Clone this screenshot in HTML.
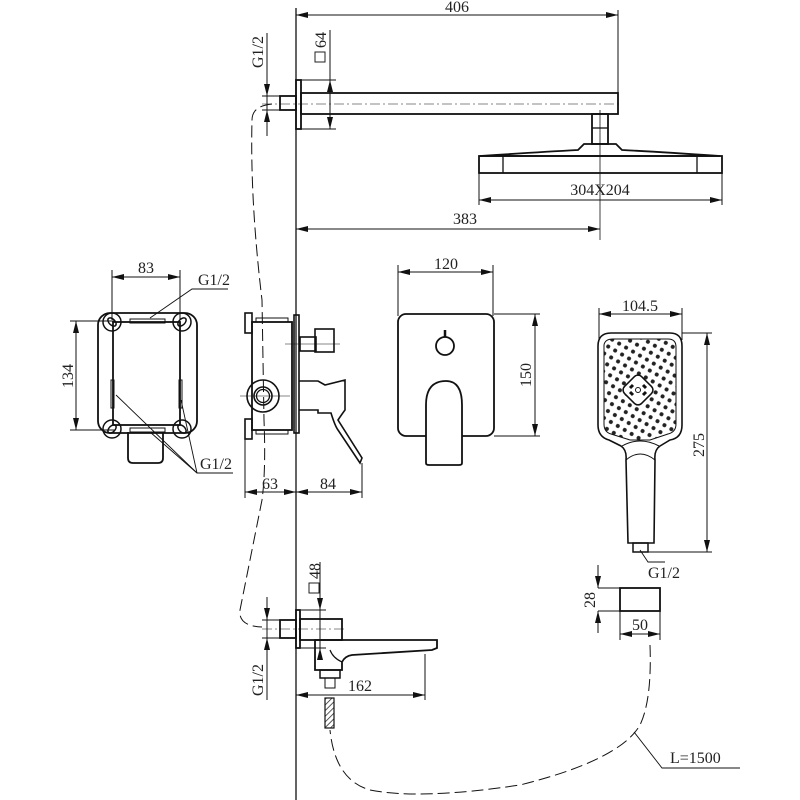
<!DOCTYPE html>
<html><head><meta charset="utf-8"><style>
html,body{margin:0;padding:0;background:#fff;}
svg{display:block;}
text{font-family:"Liberation Serif",serif;font-size:16px;fill:#222;}
</style></head><body>
<svg width="800" height="800" viewBox="0 0 800 800" xmlns="http://www.w3.org/2000/svg">
<defs>
<marker id="a" markerWidth="12" markerHeight="6" refX="12" refY="3" orient="auto-start-reverse" markerUnits="userSpaceOnUse"><path d="M0,0 L12,3 L0,6 z" fill="#111"/></marker>
<pattern id="dots" width="8" height="8" patternUnits="userSpaceOnUse" patternTransform="rotate(30)"><circle cx="4" cy="4" r="2" fill="#222"/></pattern>
<pattern id="hatch" width="4" height="4" patternUnits="userSpaceOnUse" patternTransform="rotate(45)"><line x1="0" y1="0" x2="0" y2="4" stroke="#222" stroke-width="1.5"/></pattern>
</defs>
<g fill="none" stroke="#111" stroke-width="1.3">
<line x1="296" y1="8" x2="296" y2="800"/>

<!-- TOP: shower arm -->
<line x1="296" y1="15" x2="618" y2="15" stroke-width="1" marker-start="url(#a)" marker-end="url(#a)"/>
<line x1="618" y1="10" x2="618" y2="95" stroke-width="1"/>
<rect x="296" y="80" width="5" height="49" stroke-width="1.8"/>
<rect x="280" y="96" width="16" height="14" stroke-width="1.8"/>
<rect x="301" y="93" width="317" height="21" stroke-width="1.8"/>
<line x1="262" y1="104" x2="622" y2="104" stroke-width="0.6" stroke-dasharray="10,3,2,3"/>
<line x1="301" y1="80" x2="336" y2="80" stroke-width="1"/>
<line x1="301" y1="129" x2="336" y2="129" stroke-width="1"/>
<line x1="330" y1="30" x2="330" y2="129" stroke-width="1"/>
<path d="M327,92 L330,80 L333,92 z M327,117 L330,129 L333,117z" fill="#111" stroke="none"/>
<line x1="267" y1="33" x2="267" y2="136" stroke-width="1"/>
<line x1="262" y1="96" x2="280" y2="96" stroke-width="1"/>
<line x1="262" y1="110" x2="280" y2="110" stroke-width="1"/>
<path d="M264,84 L267,96 L270,84 z M264,122 L267,110 L270,122z" fill="#111" stroke="none"/>
<!-- shower head -->
<rect x="592" y="114" width="16" height="30" stroke-width="1.8"/>
<line x1="592" y1="128" x2="608" y2="128"/>
<path d="M584,144 L616,144 L622,150 Q660,152 720,156 L480,156 Q540,152 578,150 z" stroke-width="1.8"/>
<rect x="479" y="156" width="243" height="17" stroke-width="1.8"/>
<line x1="503" y1="156" x2="503" y2="173"/>
<line x1="697" y1="156" x2="697" y2="173"/>
<line x1="600" y1="110" x2="600" y2="240" stroke-width="0.8"/>
<line x1="479" y1="173" x2="479" y2="205" stroke-width="1"/>
<line x1="722" y1="173" x2="722" y2="205" stroke-width="1"/>
<line x1="479" y1="200" x2="722" y2="200" stroke-width="1" marker-start="url(#a)" marker-end="url(#a)"/>
<line x1="296" y1="229" x2="600" y2="229" stroke-width="1" marker-start="url(#a)" marker-end="url(#a)"/>

<!-- dashed hose upper -->
<path d="M272,104 Q252,106 252,120 Q250,200 262,300 L264,420 Q266,470 262,500 Q250,560 240,610 Q238,626 262,627" stroke-width="1" stroke-dasharray="12,5"/>

<!-- LEFT BOX -->
<line x1="112" y1="277" x2="180" y2="277" stroke-width="1" marker-start="url(#a)" marker-end="url(#a)"/>
<line x1="112" y1="270" x2="112" y2="320" stroke-width="1"/>
<line x1="180" y1="270" x2="180" y2="320" stroke-width="1"/>
<rect x="98" y="313" width="99" height="120" rx="12" stroke-width="1.8"/>
<rect x="113" y="322" width="67" height="103" stroke-width="1.8"/>
<g stroke-width="1.5">
<circle cx="112" cy="322" r="9"/><ellipse cx="112" cy="322" rx="3" ry="5" transform="rotate(-45 112 322)"/>
<circle cx="182" cy="322" r="9"/><ellipse cx="182" cy="322" rx="3" ry="5" transform="rotate(45 182 322)"/>
<circle cx="112" cy="429" r="9"/><ellipse cx="112" cy="429" rx="3" ry="5" transform="rotate(45 112 429)"/>
<circle cx="182" cy="429" r="9"/><ellipse cx="182" cy="429" rx="3" ry="5" transform="rotate(-45 182 429)"/>
</g>
<rect x="130" y="319" width="35" height="4" stroke-width="1"/>
<rect x="130" y="428" width="35" height="4" stroke-width="1"/>
<rect x="111" y="380" width="3" height="28" stroke-width="1"/>
<rect x="179" y="380" width="3" height="28" stroke-width="1"/>
<path d="M128,432 L128,458 Q128,463 133,463 L158,463 Q163,463 163,458 L163,432" stroke-width="1.8"/>
<line x1="70" y1="321" x2="115" y2="321" stroke-width="1"/>
<line x1="70" y1="430" x2="115" y2="430" stroke-width="1"/>
<line x1="76" y1="321" x2="76" y2="430" stroke-width="1" marker-start="url(#a)" marker-end="url(#a)"/>
<polyline points="228,289 192,289 150,318" stroke-width="0.9"/>
<polyline points="233,473 197,473 116,395" stroke-width="0.9"/>
<line x1="197" y1="473" x2="150" y2="432" stroke-width="0.9"/>
<line x1="197" y1="473" x2="181" y2="400" stroke-width="0.9"/>

<!-- VALVE side -->
<rect x="245" y="313" width="7" height="20" stroke-width="1.6"/>
<rect x="245" y="419" width="7" height="20" stroke-width="1.6"/>
<rect x="252" y="322" width="40" height="108" stroke-width="1.8"/>
<rect x="256" y="318" width="32" height="4" stroke-width="1"/>
<rect x="256" y="430" width="32" height="4" stroke-width="1"/>
<rect x="294" y="315" width="5" height="118" stroke-width="1.6"/>
<circle cx="263" cy="396" r="16" stroke-width="1.6"/>
<circle cx="263" cy="396" r="9" stroke-width="1.6"/>
<circle cx="263" cy="396" r="6.5" stroke-width="1.3"/>
<line x1="240" y1="396" x2="290" y2="396" stroke-width="0.6"/>
<rect x="300" y="337" width="16" height="14" stroke-width="1.6"/>
<rect x="315" y="329" width="19" height="23" stroke-width="1.6"/>
<line x1="285" y1="344" x2="340" y2="344" stroke-width="0.6"/>
<path d="M299,381 L318,381 L325,385 L345,380 L345,410 Q342,414 338,420 L362,458 L360,463 L338,430 Q335,426 331,413 L318,413 L318,410 L299,410" stroke-width="1.6"/>
<line x1="245" y1="439" x2="245" y2="498" stroke-width="1"/>
<line x1="362" y1="463" x2="362" y2="498" stroke-width="1"/>
<line x1="245" y1="492" x2="296" y2="492" stroke-width="1" marker-start="url(#a)" marker-end="url(#a)"/>
<line x1="296" y1="492" x2="362" y2="492" stroke-width="1" marker-start="url(#a)" marker-end="url(#a)"/>

<!-- TRIM PLATE -->
<line x1="398" y1="272" x2="493" y2="272" stroke-width="1" marker-start="url(#a)" marker-end="url(#a)"/>
<line x1="398" y1="265" x2="398" y2="316" stroke-width="1"/>
<line x1="493" y1="265" x2="493" y2="316" stroke-width="1"/>
<rect x="398" y="314" width="96" height="122" rx="8" stroke-width="1.8"/>
<circle cx="445" cy="346" r="9" stroke-width="1.8"/>
<line x1="445" y1="330" x2="445" y2="337" stroke-width="2.5"/>
<path d="M426,463 L426,405 Q426,381 446,381 Q462,381 462,405 L462,463 Q462,465 459,465 L429,465 Q426,465 426,463 z" fill="#fff" stroke-width="1.8"/>
<line x1="494" y1="314" x2="540" y2="314" stroke-width="1"/>
<line x1="494" y1="436" x2="540" y2="436" stroke-width="1"/>
<line x1="535" y1="314" x2="535" y2="436" stroke-width="1" marker-start="url(#a)" marker-end="url(#a)"/>

<!-- HAND SHOWER -->
<line x1="599" y1="314" x2="682" y2="314" stroke-width="1" marker-start="url(#a)" marker-end="url(#a)"/>
<line x1="599" y1="308" x2="599" y2="340" stroke-width="1"/>
<line x1="682" y1="308" x2="682" y2="340" stroke-width="1"/>
<path d="M611,333 L670,333 Q682,333 682,346 L682,425 Q682,438 670,440 L660,446 Q654,450 655,460 L654,543 L628,543 L626,460 Q627,450 621,446 L609,440 Q598,437 598,425 L598,346 Q598,333 611,333 z" stroke-width="1.6"/>
<path d="M604,345 Q605,339 613,339 L668,339 Q676,339 676,347 L676,424 Q676,432 668,434 L650,440 L630,440 L611,434 Q604,432 604,424 z" fill="url(#dots)" stroke-width="1"/>
<path d="M622,446 Q640,436 659,446" stroke-width="1"/>
<path d="M626,460 Q640,448 655,460" stroke-width="1"/>
<rect x="626" y="378" width="24" height="24" rx="5" transform="rotate(45 638 390)" fill="#fff" stroke-width="1.5"/>
<circle cx="638" cy="390" r="2.5" stroke-width="1"/>
<line x1="633" y1="385" x2="630" y2="388" stroke-width="3"/><line x1="643" y1="385" x2="646" y2="388" stroke-width="3"/>
<line x1="633" y1="395" x2="630" y2="392" stroke-width="3"/><line x1="643" y1="395" x2="646" y2="392" stroke-width="3"/>
<rect x="633" y="543" width="15" height="9" stroke-width="1.5"/>
<line x1="648" y1="552" x2="712" y2="552" stroke-width="1"/>
<line x1="682" y1="333" x2="712" y2="333" stroke-width="1"/>
<line x1="707" y1="333" x2="707" y2="552" stroke-width="1" marker-start="url(#a)" marker-end="url(#a)"/>
<polyline points="640,550 648,562 665,562" stroke-width="0.9"/>

<!-- wall bracket -->
<rect x="620" y="588" width="40" height="23" stroke-width="1.8"/>
<line x1="598" y1="588" x2="620" y2="588" stroke-width="1"/>
<line x1="598" y1="611" x2="620" y2="611" stroke-width="1"/>
<line x1="598" y1="565" x2="598" y2="588" stroke-width="1" marker-end="url(#a)"/>
<line x1="598" y1="633" x2="598" y2="611" stroke-width="1" marker-end="url(#a)"/>
<line x1="620" y1="611" x2="620" y2="640" stroke-width="1"/>
<line x1="660" y1="611" x2="660" y2="640" stroke-width="1"/>
<line x1="620" y1="634" x2="660" y2="634" stroke-width="1" marker-start="url(#a)" marker-end="url(#a)"/>

<!-- SPOUT -->
<rect x="296" y="610" width="4" height="38" stroke-width="1.8"/>
<rect x="280" y="620" width="16" height="18" stroke-width="1.8"/>
<rect x="300" y="619" width="42" height="21" stroke-width="1.8"/>
<path d="M315,640 L437,640 L437,648 L432,650 Q400,652 352,655 Q345,656 342,662 L342,670 L315,670 z" stroke-width="1.8"/>
<path d="M330,650 Q333,658 342,662" stroke-width="1.2"/>
<rect x="320" y="670" width="20" height="8" stroke-width="1.5"/>
<rect x="325" y="678" width="10" height="10" stroke-width="1"/>
<rect x="325" y="698" width="9" height="30" fill="url(#hatch)" stroke-width="1.2"/>
<line x1="262" y1="629" x2="345" y2="629" stroke-width="0.6" stroke-dasharray="10,3,2,3"/>
<line x1="301" y1="610" x2="326" y2="610" stroke-width="1"/>
<line x1="301" y1="648" x2="326" y2="648" stroke-width="1"/>
<line x1="320" y1="562" x2="320" y2="650" stroke-width="1"/>
<path d="M317,598 L320,610 L323,598 z M317,660 L320,648 L323,660z" fill="#111" stroke="none"/>
<line x1="267" y1="597" x2="267" y2="700" stroke-width="1"/>
<line x1="262" y1="620" x2="280" y2="620" stroke-width="1"/>
<line x1="262" y1="638" x2="280" y2="638" stroke-width="1"/>
<path d="M264,608 L267,620 L270,608 z M264,650 L267,638 L270,650z" fill="#111" stroke="none"/>
<line x1="425" y1="654" x2="425" y2="700" stroke-width="1"/>
<line x1="296" y1="695" x2="425" y2="695" stroke-width="1" marker-start="url(#a)" marker-end="url(#a)"/>

<!-- dashed hose lower -->
<path d="M650,645 Q652,700 640,725 Q620,760 520,785 Q420,800 370,790 Q335,780 330,730" stroke-width="1" stroke-dasharray="12,5"/>
<polyline points="634,732 662,768 740,768" stroke-width="0.9"/>
</g>

<!-- small square symbols -->
<rect x="315" y="52" width="10" height="10" fill="none" stroke="#222" stroke-width="1"/>
<rect x="309" y="583" width="10" height="10" fill="none" stroke="#222" stroke-width="1"/>

<!-- text -->
<text x="457" y="12" text-anchor="middle">406</text>
<text transform="translate(263,52) rotate(-90)" text-anchor="middle">G1/2</text>
<text transform="translate(326,40) rotate(-90)" text-anchor="middle">64</text>
<text x="600" y="195" text-anchor="middle">304X204</text>
<text x="465" y="224" text-anchor="middle">383</text>
<text x="146" y="273" text-anchor="middle">83</text>
<text x="198" y="285">G1/2</text>
<text x="200" y="469">G1/2</text>
<text transform="translate(73,376) rotate(-90)" text-anchor="middle">134</text>
<text x="270" y="489" text-anchor="middle">63</text>
<text x="328" y="489" text-anchor="middle">84</text>
<text x="446" y="269" text-anchor="middle">120</text>
<text transform="translate(531,375) rotate(-90)" text-anchor="middle">150</text>
<text x="640" y="311" text-anchor="middle">104.5</text>
<text transform="translate(704,445) rotate(-90)" text-anchor="middle">275</text>
<text x="648" y="578" font-family="Liberation Sans, sans-serif">G1/2</text>
<text transform="translate(595,600) rotate(-90)" text-anchor="middle">28</text>
<text x="640" y="630" text-anchor="middle">50</text>
<text transform="translate(320,571) rotate(-90)" text-anchor="middle">48</text>
<text transform="translate(263,680) rotate(-90)" text-anchor="middle">G1/2</text>
<text x="360" y="691" text-anchor="middle">162</text>
<text x="670" y="763" font-family="Liberation Sans, sans-serif">L=1500</text>
</svg>
</body></html>
